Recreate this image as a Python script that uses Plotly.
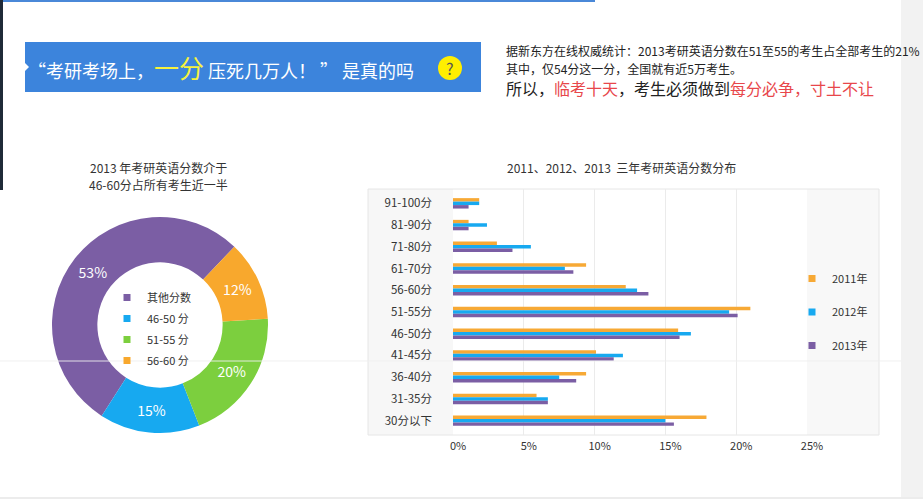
import plotly.graph_objects as go

W, H = 923, 499


def px(x):
    return x / W


def py(y):
    return 1 - y / H


# bar chart data (share of candidates, %)
score_bands = ["91-100分", "81-90分", "71-80分", "61-70分", "56-60分", "51-55分",
               "46-50分", "41-45分", "36-40分", "31-35分", "30分以下"]
years = ["2011年", "2012年", "2013年"]
share_2011 = [1.85, 1.1, 3.1, 9.4, 12.2, 21.0, 15.9, 10.1, 9.4, 5.9, 17.9]
share_2012 = [1.85, 2.4, 5.5, 7.9, 13.0, 19.5, 16.8, 12.0, 7.5, 6.7, 15.0]
share_2013 = [1.1, 1.1, 4.2, 8.5, 13.8, 20.1, 16.0, 11.35, 8.7, 6.7, 15.6]
x_ticks = [0, 5, 10, 15, 20, 25]

# donut data (2013)
donut_labels = ["其他分数", "46-50 分", "51-55 分", "56-60 分"]
donut_values = [53, 15, 20, 12]

year_colors = ["#f7a935", "#17a9f0", "#7b5ea4"]
donut_colors = ["#7b5ea4", "#17a9f0", "#7ccf3e", "#f8a82d"]
FONT = "Noto Sans CJK SC"

fig = go.Figure()

for name, vals, col in zip(years, [share_2011, share_2012, share_2013], year_colors):
    fig.add_trace(go.Bar(x=vals, y=score_bands, orientation="h", name=name,
                         marker=dict(color=col, line=dict(width=0)),
                         showlegend=False))
    # legend entry with small square
    fig.add_trace(go.Scatter(x=[None], y=[None], mode="markers", name=name,
                             marker=dict(symbol="square", size=7, color=col),
                             legend="legend2", legendgroup=name))

fig.add_trace(go.Pie(labels=donut_labels, values=donut_values, hole=0.58,
                     sort=False, direction="counterclockwise", rotation=212.7,
                     marker=dict(colors=donut_colors, line=dict(width=0)),
                     texttemplate="%{value}%", textposition="inside",
                     insidetextorientation="horizontal",
                     textfont=dict(color="white", size=14, family=FONT),
                     domain=dict(x=[px(52), px(268)], y=[py(433), py(217)]),
                     showlegend=False))

for lab, col in zip(donut_labels, donut_colors):
    fig.add_trace(go.Scatter(x=[None], y=[None], mode="markers", name=lab,
                             marker=dict(symbol="square", size=7, color=col),
                             legend="legend", legendgroup=lab))

shapes = [
    # slide frame bits
    dict(type="rect", x0=px(901), x1=1, y0=0, y1=1, fillcolor="#f2f2f2"),
    dict(type="rect", x0=0, x1=1, y0=0, y1=py(497), fillcolor="#ececec"),
    dict(type="rect", x0=0, x1=px(595), y0=py(2), y1=1, fillcolor="#4a88d8"),
    dict(type="rect", x0=0, x1=px(3), y0=py(190), y1=1, fillcolor="#1f2a38"),
    # banner
    dict(type="rect", x0=px(25), x1=px(481), y0=py(92), y1=py(42), fillcolor="#3c84dc"),
    dict(type="path", path=f"M {px(25)},{py(63)} L {px(29)},{py(67)} L {px(25)},{py(71)} Z",
         fillcolor="white"),
    dict(type="circle", x0=px(438), x1=px(462), y0=py(80), y1=py(56), fillcolor="#ffee00"),
    # bar chart panel
    dict(type="rect", x0=px(368), x1=px(453), y0=py(435), y1=py(189), fillcolor="#f7f7f7"),
    dict(type="rect", x0=px(807), x1=px(879), y0=py(435), y1=py(189), fillcolor="#f8f8f8"),
    dict(type="rect", x0=px(368), x1=px(879), y0=py(435), y1=py(189),
         line=dict(color="#e6e6e6", width=1), fillcolor="rgba(0,0,0,0)"),
]
for s in shapes:
    s.setdefault("xref", "paper")
    s.setdefault("yref", "paper")
    s.setdefault("layer", "below")
    s.setdefault("line", dict(width=0))
fig.update_layout(shapes=shapes)
# faint slide line across the page
fig.add_shape(type="line", xref="paper", yref="paper", x0=0, x1=px(901), y0=py(361), y1=py(361),
              line=dict(color="rgba(238,238,238,0.9)", width=1), layer="above")

red = "#e8474b"
annotations = [
    dict(x=px(26), y=py(67), xanchor="left", yanchor="middle",
         text="“考研考场上，<span style='color:#f7f23c;font-size:25px'>一分</span> 压死几万人！ ” 是真的吗",
         font=dict(size=18, color="white")),
    dict(x=px(450), y=py(68), xanchor="center", yanchor="middle", text="?",
         font=dict(size=16, color="#555")),
    dict(x=px(504), y=py(51), xanchor="left", yanchor="middle",
         text="据新东方在线权威统计：2013考研英语分数在51至55的考生占全部考生的21%",
         font=dict(size=12, color="#222")),
    dict(x=px(504), y=py(68), xanchor="left", yanchor="middle",
         text="其中，仅54分这一分，全国就有近5万考生。",
         font=dict(size=12, color="#222")),
    dict(x=px(504), y=py(88), xanchor="left", yanchor="middle",
         text=f"所以，<span style='color:{red}'>临考十天</span>，考生必须做到"
              f"<span style='color:{red}'>每分必争，寸土不让</span>",
         font=dict(size=16, color="#222")),
    dict(x=px(158), y=py(167), xanchor="center", yanchor="middle", borderpad=0,
         text="2013 年考研英语分数介于", font=dict(size=12, color="#333")),
    dict(x=px(158), y=py(184.5), xanchor="center", yanchor="middle", borderpad=0,
         text="46-60分占所有考生近一半", font=dict(size=12, color="#333")),
    dict(x=px(621), y=py(167), xanchor="center", yanchor="middle",
         text="2011、2012、2013  三年考研英语分数分布",
         font=dict(size=12, color="#333")),
]
for a in annotations:
    a.update(xref="paper", yref="paper", showarrow=False)

fig.update_layout(
    annotations=annotations,
    width=W, height=H,
    margin=dict(l=0, r=0, t=0, b=0, autoexpand=False),
    paper_bgcolor="white", plot_bgcolor="rgba(0,0,0,0)",
    font=dict(family=FONT, color="#333"),
    barmode="group", bargap=0.52, bargroupgap=0,
    xaxis=dict(domain=[px(453), px(807)], range=[0, 25], tickvals=x_ticks,
               ticktext=[f"{t}%" for t in x_ticks], showgrid=True, gridcolor="#ebebeb",
               zeroline=False, showline=False, ticks="", ticklabelshift=5,
               ticklabelstandoff=3, automargin=False,
               tickfont=dict(size=11, color="#333")),
    yaxis=dict(domain=[py(435), py(189)], range=[10.66, -0.66], type="category",
               showgrid=False, zeroline=False, showline=False, ticks="",
               automargin=False, ticklabelstandoff=20,
               tickfont=dict(size=11.5, color="#333")),
    legend=dict(x=px(107), y=py(283), xanchor="left", yanchor="top",
                bgcolor="rgba(0,0,0,0)", font=dict(size=11, color="#333"),
                tracegroupgap=2, itemclick=False, itemdoubleclick=False),
    legend2=dict(x=px(792), y=py(264), xanchor="left", yanchor="top",
                 bgcolor="rgba(0,0,0,0)", font=dict(size=11, color="#333"),
                 tracegroupgap=14.5, itemclick=False, itemdoubleclick=False),
)

fig.write_html("out.html", config={"displayModeBar": False},
               post_script="document.body.style.margin='0';document.body.style.overflow='hidden';")
